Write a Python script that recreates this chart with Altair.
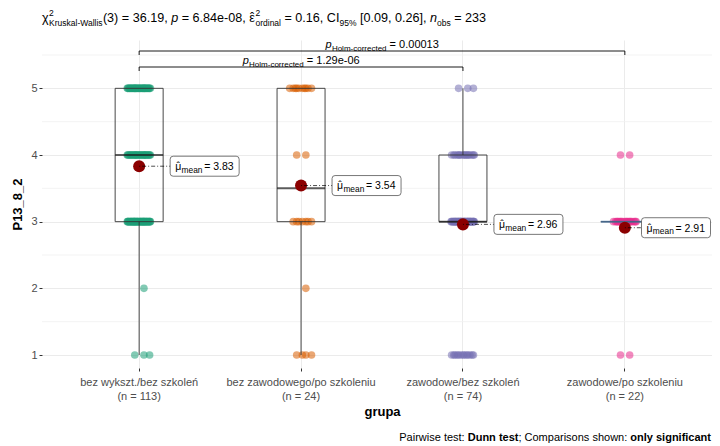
import altair as alt
import pandas as pd

# ---------------- data ----------------
categories = ["bez wykszt./bez szkoleń", "bez zawodowego/po szkoleniu",
              "zawodowe/bez szkoleń", "zawodowe/po szkoleniu"]
levels = [1, 2, 3, 4, 5]
counts_g1 = [3, 1, 44, 29, 36]
counts_g2 = [4, 1, 7, 2, 10]
counts_g3 = [13, 0, 41, 17, 3]
counts_g4 = [2, 0, 18, 2, 0]
group_colors = ["#1B9E77", "#D95F02", "#7570B3", "#E7298A"]
y_ticks = [1, 2, 3, 4, 5]
y_minor = [1.5, 2.5, 3.5, 4.5, 5.5]
cmp_first = [0, 0]
cmp_second = [2, 3]
cmp_p = ["1.29e-06", "0.00013"]
kw_df = "3"
kw_stat = "36.19"
kw_p = "6.84e-08"
eps2 = "0.16"
eps_ci = "[0.09, 0.26]"
y_title = "P13_8_2"
x_title = "grupa"

# ---------------- layout ----------------
W, H = 670, 328          # visible panel (page x 42..712)
XR = 680                 # extent of the discrete x range (panel runs to the window edge)
BW = XR / 4.2
FONT = "Liberation Sans"

REG = {' ': 278, '(': 333, ')': 333, ',': 278, '-': 333, '.': 278, '/': 278, ':': 278,
       ';': 278, '=': 584, '%': 889, '[': 278, ']': 278, 'C': 722, 'D': 722, 'H': 722,
       'I': 278, 'K': 667, 'P': 667, 'W': 944, 'χ': 520, 'ε': 450, 'μ': 576, 'ˆ': 333}
REG.update(dict(zip("abcdefghijklmnopqrstuvwxyz",
                    [556, 556, 500, 556, 556, 278, 556, 556, 222, 222, 500, 222, 833,
                     556, 556, 556, 556, 333, 500, 278, 556, 500, 722, 500, 500, 500])))
BOLD = {' ': 278, ';': 333, ':': 333, 'C': 722, 'D': 722}
BOLD.update(dict(zip("abcdefghijklmnopqrstuvwxyz",
                     [556, 611, 556, 611, 556, 333, 611, 611, 278, 278, 556, 278, 889,
                      611, 611, 611, 611, 389, 556, 333, 611, 556, 778, 556, 556, 500])))


def tw(s, size, bold=False):
    t = BOLD if bold else REG
    return sum(t.get(ch, 556) for ch in s) * size / 1000.0


all_counts = [counts_g1, counts_g2, counts_g3, counts_g4]
ns = [sum(c) for c in all_counts]
N = sum(ns)
labels = [f"{c}\n(n = {n})" for c, n in zip(categories, ns)]

rows = []
for lab, cnt in zip(labels, all_counts):
    for lv, c in zip(levels, cnt):
        rows += [{"grupa": lab, "value": lv}] * c
pts = pd.DataFrame(rows)

means = [sum(l * c for l, c in zip(levels, cnt)) / sum(cnt) for cnt in all_counts]
centers = [BW * (0.1 + i + 0.5) for i in range(len(labels))]
F_L, S_L = 10.5, 8.4
summ = []
for lab, m, cx in zip(labels, means, centers):
    off = min(65.5, W - 1.5 - 34.5 - cx)
    mu0 = off - 29.5
    summ.append({
        "grupa": lab, "mean": m, "off": off,
        "o_mu": mu0, "o_hat": mu0 + tw("μ", F_L) / 2,
        "o_sub": mu0 + tw("μ", F_L) + 0.3, "o_val": off - 0.5,
        "mu": "μ", "hat": "ˆ", "sub": "mean", "val": f"= {m:.2f}",
    })
summ = pd.DataFrame(summ)

ymax = max(l for cnt in all_counts for l, c in zip(levels, cnt) if c > 0)
F_B, S_B = 11, 8
brs = []
for k, (a, b, p) in enumerate(zip(cmp_first, cmp_second, cmp_p)):
    yb = ymax + 0.32 + 0.24 * k
    mid = (b - a) * BW / 2
    wp, ws, wv = tw("p", F_B), tw("Holm-corrected", S_B), tw(" = " + p, F_B)
    st = mid - (wp + ws + wv) / 2
    brs.append({"a": labels[a], "b": labels[b], "yb": yb, "ydrop": yb - 0.06,
                "o_p": st, "o_sub": st + wp + 0.3, "o_val": st + wp + 0.3 + ws + tw(" ", F_B),
                "tp": "p", "tsub": "Holm-corrected", "tval": "= " + p})
brs = pd.DataFrame(brs)

# ---------------- encodings ----------------
xscale = alt.Scale(type="band", domain=labels, range=[0, XR], paddingInner=0, paddingOuter=0.1)
xaxis = alt.Axis(title=x_title, labelExpr="split(datum.label, '\\n')", labelAngle=0,
                 bandPosition=0.5, grid=True, labelPadding=5, labelLineHeight=14,
                 labelBaseline="top", titlePadding=4, labelOverlap=False, labelLimit=300)
yscale = alt.Scale(domain=[0.805, 5.725], nice=False, zero=False)
yaxis = alt.Axis(title=y_title, values=y_ticks, labelPadding=2, titlePadding=6, grid=True)
xo = alt.Scale(domain=[-BW / 2, BW / 2], range=[0, BW], nice=False, zero=False)


def X(f):
    return alt.X(f, type="nominal", scale=xscale, axis=xaxis)


def Y(f):
    return alt.Y(f, type="quantitative", scale=yscale, axis=yaxis)


def XO(f):
    return alt.XOffset(f, type="quantitative", scale=xo)


def ann(text, x, y, size, style="normal", weight="normal", align="left"):
    lead = len(text) - len(text.lstrip())
    x = x + (tw(" " * lead, size, weight == "bold") if align == "left" else 0)
    return alt.Chart(pd.DataFrame({"t": [text.strip()]})).mark_text(
        align=align, baseline="alphabetic", font=FONT, fontSize=size,
        fontStyle=style, fontWeight=weight, color="black"
    ).encode(x=alt.value(x), y=alt.value(y), text="t:N")


# ---------------- layers ----------------
minor = alt.Chart(pd.DataFrame({"m": y_minor})).mark_rule(
    color="#F0F0F0", strokeWidth=0.8
).encode(y=Y("m"), x=alt.value(0), x2=alt.value(W))

points = alt.Chart(pts).transform_window(
    k="row_number()", groupby=["grupa", "value"]
).transform_calculate(
    jit="((((datum.k - 1) * 0.618034 + 0.7) % 1) - 0.5) * 24"
).mark_circle(size=58, opacity=0.55).encode(
    x=X("grupa"), xOffset=XO("jit"), y=Y("value"),
    color=alt.Color("grupa:N", scale=alt.Scale(domain=labels, range=group_colors), legend=None)
)

box = alt.Chart(pts).mark_boxplot(
    size=48, extent=1.5, outliers=False, ticks=False,
    box={"fill": "white", "fillOpacity": 0, "stroke": "#333333", "strokeWidth": 0.9},
    median={"color": "#1a1a1a", "thickness": 2},
    rule={"color": "#333333", "strokeWidth": 0.9},
).encode(x=X("grupa"), y=Y("value"))

br_h = alt.Chart(brs).mark_rule(color="black", strokeWidth=0.9).encode(
    x=X("a"), x2=alt.X2("b"), y=Y("yb"))
br_a = alt.Chart(brs).mark_rule(color="black", strokeWidth=0.9).encode(
    x=X("a"), y=Y("yb"), y2=alt.Y2("ydrop"))
br_b = alt.Chart(brs).mark_rule(color="black", strokeWidth=0.9).encode(
    x=X("b"), y=Y("yb"), y2=alt.Y2("ydrop"))


def br_txt(field, off, size, dy, style="normal"):
    return alt.Chart(brs).mark_text(
        align="left", baseline="alphabetic", font=FONT, fontSize=size, dy=dy,
        fontStyle=style, color="black"
    ).encode(x=X("a"), xOffset=XO(off), y=Y("yb"), text=f"{field}:N")


mean_pt = alt.Chart(summ).mark_circle(size=145, color="#8B0000", opacity=1).encode(
    x=X("grupa"), y=Y("mean"))
conn = alt.Chart(summ).mark_rule(color="black", strokeWidth=0.7, strokeDash=[1, 2, 4, 2],
                                 x2Offset=50).encode(
    x=X("grupa"), x2=alt.X2("grupa"), y=Y("mean"))

hb = 10.0 / 34.5
rr = 3.0 / 34.5
box_path = (f"M {-1 + rr},{-hb} L {1 - rr},{-hb} Q 1,{-hb} 1,{-hb + rr} L 1,{hb - rr} "
            f"Q 1,{hb} {1 - rr},{hb} L {-1 + rr},{hb} Q -1,{hb} -1,{hb - rr} "
            f"L -1,{-hb + rr} Q -1,{-hb} {-1 + rr},{-hb} Z")
lab_box = alt.Chart(summ).mark_point(
    shape=box_path, size=69 * 69, filled=True, fill="white", stroke="#555555",
    strokeWidth=0.8, opacity=1
).encode(x=X("grupa"), xOffset=XO("off"), y=Y("mean"))


def lab_txt(field, off, size, dy, align="left"):
    return alt.Chart(summ).mark_text(
        align=align, baseline="alphabetic", font=FONT, fontSize=size, dy=dy, color="black"
    ).encode(x=X("grupa"), xOffset=XO(off), y=Y("mean"), text=f"{field}:N")


layers = [minor, points, box, br_h, br_a, br_b,
          br_txt("tp", "o_p", F_B, -3, "italic"),
          br_txt("tsub", "o_sub", S_B, -0.5),
          br_txt("tval", "o_val", F_B, -3),
          mean_pt, conn, lab_box,
          lab_txt("mu", "o_mu", F_L, 3.8),
          lab_txt("hat", "o_hat", F_L, 3.8, "center"),
          lab_txt("sub", "o_sub", S_L, 6.3),
          lab_txt("val", "o_val", F_L, 3.8)]

# ---------------- title (statistics line) ----------------
F, S = 12.6, 8.5
base = -18.0
cur = 0.0


def put(s, size, dy=0.0, style="normal"):
    global cur
    layers.append(ann(s, cur, base + dy, size, style))
    cur += tw(s, size)


def supsub(sup, sub):
    global cur
    x0 = cur + 0.5
    layers.append(ann(sup, x0, base - 6.5, S))
    layers.append(ann(sub, x0, base + 4, S))
    cur = x0 + max(tw(sup, S), tw(sub, S))


put("χ", F)
supsub("2", "Kruskal-Wallis")
put(f"({kw_df}) = {kw_stat}, ", F)
put("p", F, style="italic")
put(f" = {kw_p}, ", F)
layers.append(ann("ˆ", cur + tw("ε", F) / 2, base, F, align="center"))
put("ε", F)
supsub("2", "ordinal")
put(f" = {eps2}, CI", F)
put("95%", S, dy=4)
put(f" {eps_ci}, ", F)
put("n", F, style="italic")
put("obs", S, dy=4)
put(f" = {N}", F)

# ---------------- caption ----------------
FC = 11
cap = [("Pairwise test: ", "normal"), ("Dunn test", "bold"),
       ("; Comparisons shown: ", "normal"), ("only significant", "bold")]
total = sum(tw(s, FC, w == "bold") for s, w in cap)
cx = (W - 1) - total
for s, w in cap:
    layers.append(ann(s, cx, 401, FC, weight=w))
    cx += tw(s, FC, w == "bold")

chart = alt.layer(*layers).properties(
    width=W, height=H,
    autosize=alt.AutoSizeParams(type="none"),
    padding={"left": 34, "top": 32, "right": 0, "bottom": 78},
).configure_view(stroke=None).configure_axis(
    labelFont=FONT, titleFont=FONT, domain=False, labelColor="#4D4D4D", labelFontSize=11,
    tickColor="#333333", tickSize=3, gridColor="#EBEBEB", gridWidth=1,
    titleColor="black", titleFontSize=13, titleFontWeight="bold"
)

chart.save("out.html", embed_options={"renderer": "svg", "actions": False})
